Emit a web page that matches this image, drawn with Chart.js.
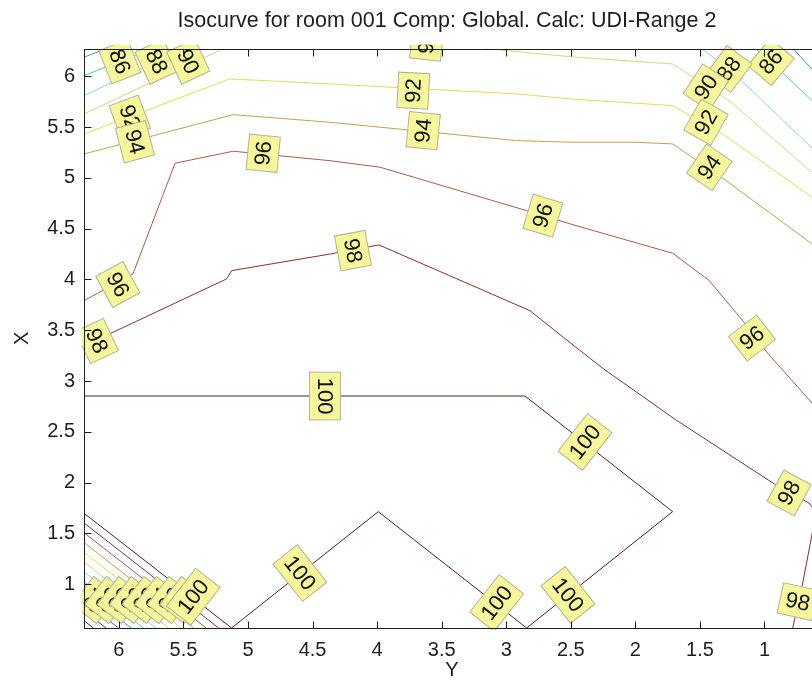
<!DOCTYPE html>
<html>
<head>
<meta charset="utf-8">
<script src="https://cdn.jsdelivr.net/npm/chart.js@4.4.0/dist/chart.umd.min.js"></script>
<style>
  html, body { margin: 0; padding: 0; background: #fff; overflow: hidden; }
  #wrap { width: 894px; height: 687px; }
</style>
</head>
<body>
<div id="wrap"><canvas id="iso" width="894" height="687"></canvas></div>
<script>
// contour levels, low to high, and the colour of each isocurve
const levels = [78, 80, 82, 84, 86, 88, 90, 92, 94, 96, 98, 100];
const levelColors = ['#1a2a9a', '#2040c0', '#2c6ad8', '#3d93e0', '#4fc4e6', '#86dcc0',
                     '#c4e07a', '#e4dc52', '#c8a048', '#b25a46', '#8c2e2e', '#5e1c1c'];

const xTicks = [1, 1.5, 2, 2.5, 3, 3.5, 4, 4.5, 5, 5.5, 6];
const yTicks = [1, 1.5, 2, 2.5, 3, 3.5, 4, 4.5, 5, 5.5, 6];

// isocurves as [Y, X] points
const iso100 = [[6.27, 2.853], [2.855, 2.853], [1.711, 1.715], [2.842, 0.57], [3.991, 1.715],
                [5.127, 0.57], [6.27, 1.699]];
const iso98 = [[6.27, 3.346], [5.166, 4.005], [5.127, 4.087], [4.365, 4.25], [3.986, 4.34],
               [2.816, 3.693], [2.558, 3.431], [2.253, 3.126], [1.685, 2.617], [0.911, 1.977],
               [0.655, 1.8], [0.601, 1.712], [0.64, 1.436], [0.704, 1.013], [0.781, 0.57]];
const iso96 = [[6.27, 3.791], [5.891, 4.054], [5.565, 5.144], [5.114, 5.262], [4.365, 5.169],
               [3.978, 5.105], [2.842, 4.677], [2.46, 4.53], [1.711, 4.258], [1.427, 3.988],
               [1.169, 3.595], [0.975, 3.274], [0.653, 2.814], [0.57, 2.696]];
const iso94 = [[6.27, 5.235], [5.115, 5.622], [4.365, 5.547], [2.919, 5.366], [2.46, 5.35],
               [1.995, 5.35], [1.711, 5.334], [1.298, 4.973], [0.632, 4.35], [0.57, 4.292]];
const iso92 = [[6.27, 5.432], [5.139, 5.974], [4.365, 5.924], [2.919, 5.826], [2.46, 5.772],
               [1.711, 5.711], [1.324, 5.432], [0.632, 4.809], [0.57, 4.753]];
const iso90 = [[6.27, 5.629], [5.194, 6.269], [5.05, 6.36], [3.75, 6.36], [2.997, 6.252],
               [2.46, 6.187], [1.711, 6.121], [1.275, 5.76], [0.632, 5.055], [0.57, 4.987]];
const iso88 = [[6.27, 5.809], [5.353, 6.357]];
const iso88r = [[1.577, 6.357], [1.275, 6.072], [0.632, 5.294], [0.57, 5.225]];
const iso86 = [[6.27, 6.006], [5.574, 6.357]];
const iso86r = [[1.151, 6.357], [0.95, 6.141], [0.57, 5.688]];
const iso84 = [[6.27, 6.187], [5.93, 6.357]];
const iso84r = [[0.841, 6.357], [0.57, 5.983]];
const iso82r = [[0.663, 6.357], [0.57, 6.239]];

// bottom-left corner, one straight isocurve per level
const corner = {
  98: [[6.27, 1.604], [5.227, 0.57]],
  96: [[6.27, 1.508], [5.324, 0.57]],
  94: [[6.27, 1.412], [5.421, 0.57]],
  92: [[6.27, 1.315], [5.518, 0.57]],
  90: [[6.27, 1.219], [5.615, 0.57]],
  88: [[6.27, 1.123], [5.712, 0.57]],
  86: [[6.27, 1.027], [5.809, 0.57]],
  84: [[6.27, 0.931], [5.906, 0.57]],
  82: [[6.27, 0.834], [6.003, 0.57]],
  80: [[6.27, 0.738], [6.1, 0.57]],
  78: [[6.27, 0.642], [6.197, 0.57]]
};

// label anchors: [level, Y, X]
const isoLabels = [
  [100, 4.404, 2.853], [100, 2.39, 2.401], [100, 2.522, 0.896], [100, 3.074, 0.816],
  [100, 4.598, 1.111], [100, 5.424, 0.878],
  [98, 6.17, 3.395], [98, 4.187, 4.284], [98, 0.81, 1.899], [98, 0.743, 0.829], [98, 5.505, 0.846],
  [96, 6.008, 3.95], [96, 4.882, 5.242], [96, 2.716, 4.628], [96, 1.097, 3.424], [96, 5.602, 0.846],
  [94, 5.876, 5.356], [94, 3.643, 5.465], [94, 1.427, 5.104], [94, 5.699, 0.846],
  [92, 5.915, 5.597], [92, 3.72, 5.858], [92, 1.453, 5.547], [92, 5.796, 0.846],
  [90, 5.463, 6.144], [90, 3.614, 6.338], [90, 1.453, 5.892], [90, 5.894, 0.846],
  [88, 5.708, 6.144], [88, 1.275, 6.072], [88, 5.99, 0.846],
  [86, 5.993, 6.144], [86, 0.95, 6.141], [86, 6.087, 0.846],
  [84, 6.184, 0.846]
];

const paths = [
  [100, iso100], [98, iso98], [96, iso96], [94, iso94], [92, iso92], [90, iso90],
  [88, iso88], [88, iso88r], [86, iso86], [86, iso86r], [84, iso84], [84, iso84r], [82, iso82r]
];
Object.keys(corner).forEach(k => paths.push([+k, corner[k]]));

const colorOf = lv => levelColors[levels.indexOf(lv)];

const datasets = paths.map(([lv, pts]) => ({
  label: String(lv),
  level: lv,
  data: pts.map(([a, b]) => ({ x: a, y: b })),
  showLine: true,
  borderColor: colorOf(lv),
  borderWidth: 1,
  pointRadius: 0,
  pointHoverRadius: 0,
  tension: 0,
  fill: false
}));

const tickFont = { family: '"Liberation Sans", Arial, sans-serif', size: 20 };

// angle of the isocurve nearest to a label, in canvas pixels
function nearestAngle(chart, lv, px, py) {
  let best = Infinity, ang = 0;
  chart.data.datasets.forEach((ds, i) => {
    if (ds.level !== lv) return;
    const pts = chart.getDatasetMeta(i).data;
    for (let k = 0; k < pts.length - 1; k++) {
      const ax = pts[k].x, ay = pts[k].y, bx = pts[k + 1].x, by = pts[k + 1].y;
      const dx = bx - ax, dy = by - ay;
      const len2 = dx * dx + dy * dy || 1;
      let t = ((px - ax) * dx + (py - ay) * dy) / len2;
      t = Math.max(0, Math.min(1, t));
      const d = Math.hypot(ax + t * dx - px, ay + t * dy - py);
      if (d < best) { best = d; ang = Math.atan2(dy, dx); }
    }
  });
  // text stands across the curve, kept readable
  let a = ang + Math.PI / 2;
  while (a > Math.PI / 2) a -= Math.PI;
  while (a <= -Math.PI / 2) a += Math.PI;
  return a;
}

const isoDecor = {
  id: 'isoDecor',
  afterDatasetsDraw(chart) {
    const { ctx, chartArea: a, scales: { x, y } } = chart;
    ctx.save();

    // boxed contour labels, clipped just above the axes box
    ctx.save();
    ctx.beginPath();
    ctx.rect(a.left - 2, a.top - 4, a.right - a.left + 4, a.bottom - a.top + 6);
    ctx.clip();
    const fs = 22;
    ctx.font = fs + 'px "Liberation Sans Narrow", "Liberation Sans", Arial, sans-serif';
    ctx.textAlign = 'center';
    ctx.textBaseline = 'middle';
    ctx.lineWidth = 1;
    isoLabels.slice().sort((p, q) => p[0] - q[0]).forEach(([lv, vx, vy]) => {
      const px = x.getPixelForValue(vx), py = y.getPixelForValue(vy);
      const rot = nearestAngle(chart, lv, px, py);
      const txt = String(lv);
      const w = ctx.measureText(txt).width + 11, h = fs + 9;
      ctx.save();
      ctx.translate(px, py);
      ctx.rotate(rot);
      ctx.fillStyle = '#f6f69a';
      ctx.fillRect(-w / 2, -h / 2, w, h);
      ctx.strokeStyle = '#b4b496';
      ctx.strokeRect(-w / 2, -h / 2, w, h);
      ctx.fillStyle = '#111';
      ctx.fillText(txt, 0, 1);
      ctx.restore();
    });
    ctx.restore();

    // axes box with inward ticks
    ctx.strokeStyle = '#202020';
    ctx.lineWidth = 1;
    const L = Math.round(a.left) + 0.5, R = Math.round(a.right) + 0.5;
    const T = Math.round(a.top) + 0.5, B = Math.round(a.bottom) + 0.5;
    ctx.strokeRect(L, T, R - L, B - T);
    ctx.beginPath();
    xTicks.forEach(v => {
      const px = Math.round(x.getPixelForValue(v)) + 0.5;
      ctx.moveTo(px, B); ctx.lineTo(px, B - 7);
      ctx.moveTo(px, T); ctx.lineTo(px, T + 7);
    });
    yTicks.forEach(v => {
      const py = Math.round(y.getPixelForValue(v)) + 0.5;
      ctx.moveTo(L, py); ctx.lineTo(L + 7, py);
      ctx.moveTo(R, py); ctx.lineTo(R - 7, py);
    });
    ctx.stroke();
    ctx.restore();
  }
};

new Chart(document.getElementById('iso'), {
  type: 'scatter',
  data: { datasets },
  options: {
    responsive: false,
    animation: false,
    devicePixelRatio: 1,
    layout: { padding: 0 },
    plugins: {
      legend: { display: false },
      tooltip: { enabled: false },
      title: {
        display: true,
        text: 'Isocurve for room 001 Comp: Global. Calc: UDI-Range 2',
        color: '#1e1e1e',
        font: { family: '"Liberation Sans", Arial, sans-serif', size: 21.5, weight: 'normal' },
        padding: { top: 8, bottom: 15 }
      }
    },
    scales: {
      x: {
        type: 'linear',
        reverse: true,
        min: 0.57,
        max: 6.27,
        grid: { display: false, drawTicks: false },
        border: { display: false },
        afterBuildTicks: s => { s.ticks = xTicks.map(v => ({ value: v })); },
        afterFit: s => { s.height = 59; },
        ticks: { color: '#1e1e1e', font: tickFont, padding: 10, maxRotation: 0, callback: v => String(v) },
        title: { display: true, text: 'Y', color: '#1e1e1e', font: tickFont, padding: { top: 0, bottom: 5 } }
      },
      y: {
        type: 'linear',
        min: 0.57,
        max: 6.27,
        grid: { display: false, drawTicks: false },
        border: { display: false },
        afterBuildTicks: s => { s.ticks = yTicks.map(v => ({ value: v })); },
        afterFit: s => { s.width = 84; },
        ticks: { color: '#1e1e1e', font: tickFont, padding: 9, callback: v => String(v) },
        title: { display: true, text: 'X', color: '#1e1e1e', font: tickFont, padding: { top: 10, bottom: 0 } }
      },
      yR: {
        type: 'linear',
        position: 'right',
        grid: { display: false, drawTicks: false },
        border: { display: false },
        ticks: { display: false },
        afterFit: s => { s.width = 74; }
      }
    }
  },
  plugins: [isoDecor]
});
</script>
</body>
</html>
